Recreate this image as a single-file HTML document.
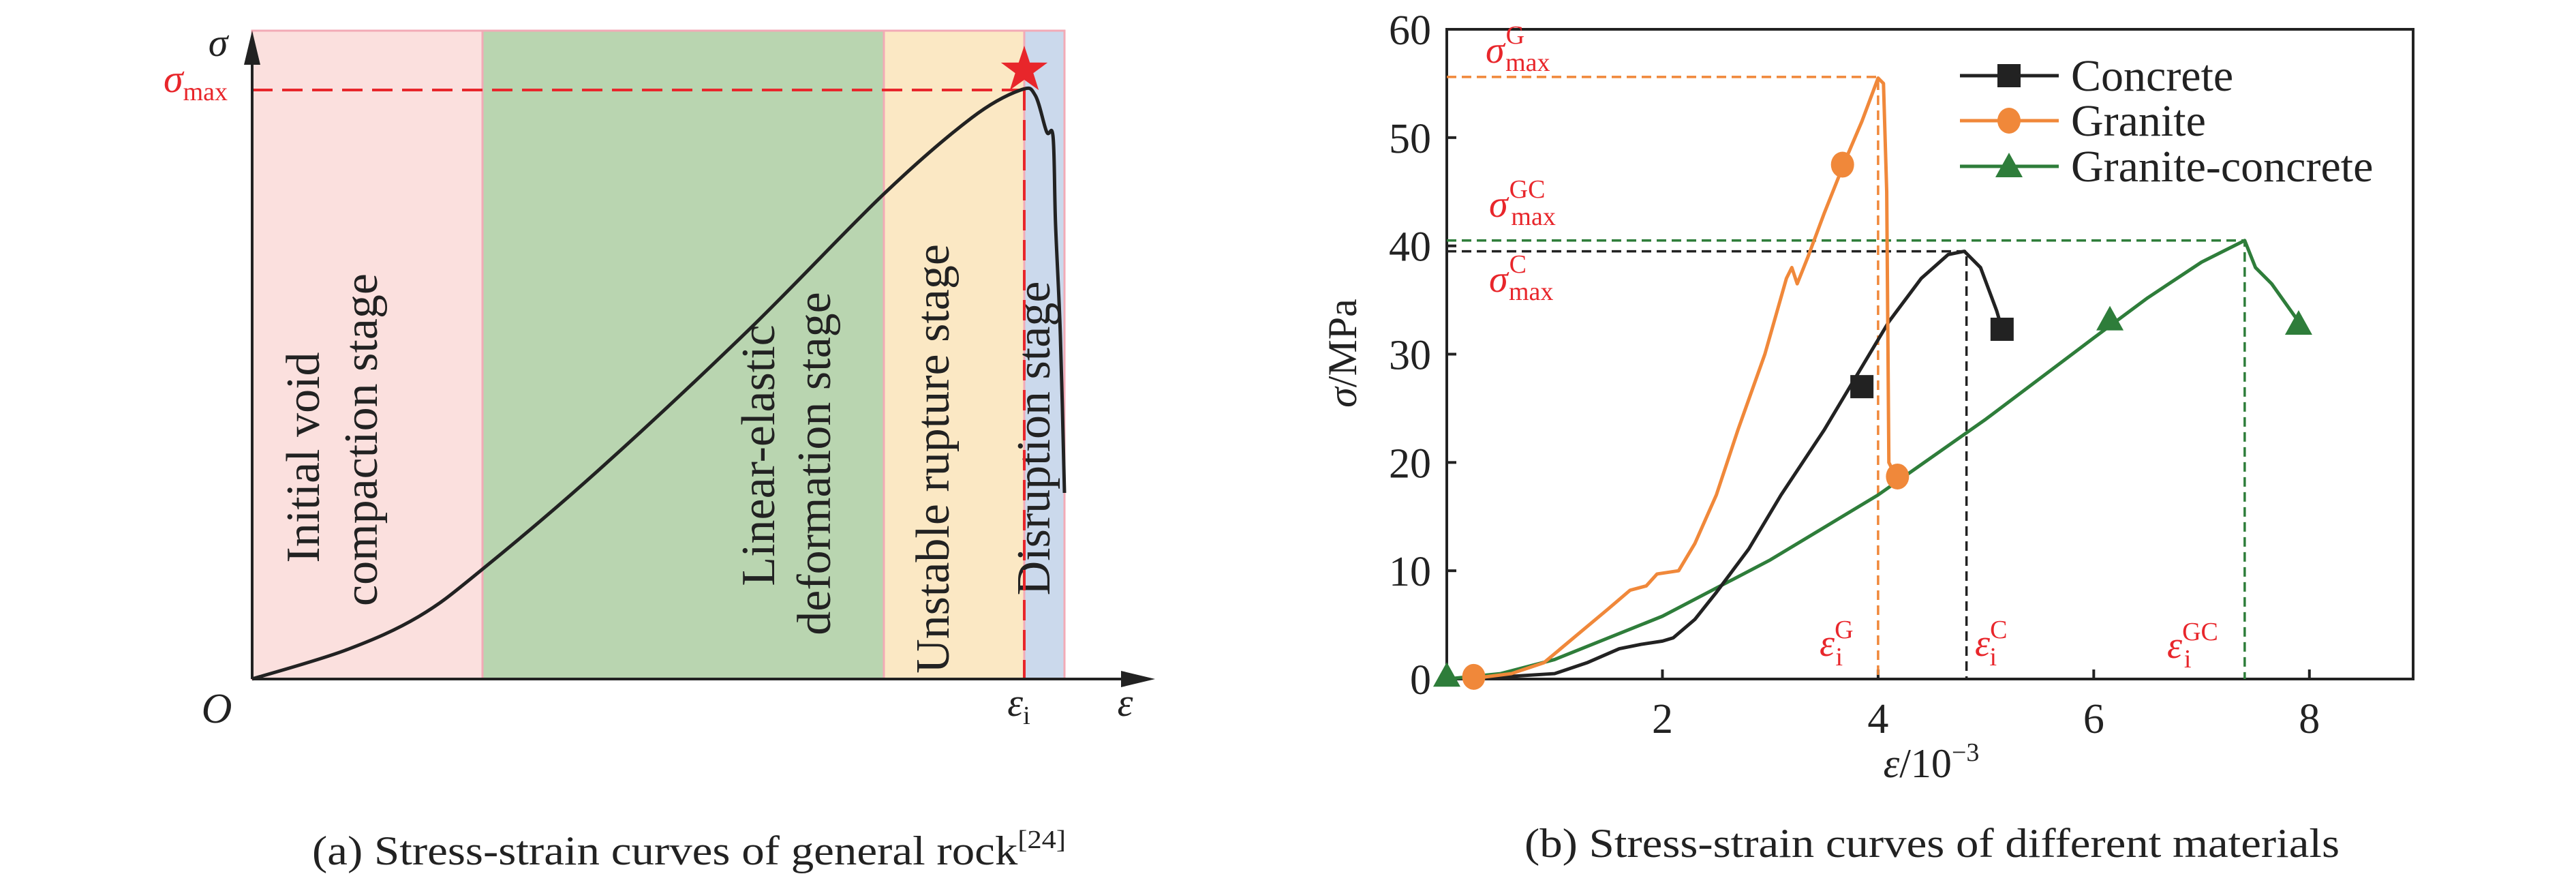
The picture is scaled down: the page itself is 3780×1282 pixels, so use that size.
<!DOCTYPE html>
<html><head><meta charset="utf-8"><style>
html,body{margin:0;padding:0;background:#fff}
svg{display:block}
text{font-family:"Liberation Serif",serif}
</style></head><body>
<svg id="s" width="3780" height="1282" viewBox="0 0 3780 1282" xmlns="http://www.w3.org/2000/svg">
<g id="left">
  <rect x="370" y="45" width="338" height="951" fill="#fbe0de" stroke="#f2aab6" stroke-width="3"/>
  <rect x="708" y="45" width="589" height="951" fill="#b9d5b0" stroke="#f2aab6" stroke-width="3"/>
  <rect x="1297" y="45" width="206" height="951" fill="#fbe8c4" stroke="#f2aab6" stroke-width="3"/>
  <rect x="1503" y="45" width="59" height="951" fill="#cbd9ec" stroke="#f2aab6" stroke-width="3"/>
  <g font-size="70" fill="#222">
    <text transform="translate(468,671) rotate(-90)" text-anchor="middle">Initial void</text>
    <text transform="translate(553,645) rotate(-90)" text-anchor="middle">compaction stage</text>
    <text transform="translate(1136,668) rotate(-90)" text-anchor="middle">Linear-elastic</text>
    <text transform="translate(1218,680) rotate(-90)" text-anchor="middle">deformation stage</text>
    <text transform="translate(1392,673) rotate(-90)" text-anchor="middle">Unstable rupture stage</text>
    <text transform="translate(1540,643) rotate(-90)" text-anchor="middle">Disruption stage</text>
  </g>
  <line x1="370" y1="132" x2="1503" y2="132" stroke="#e8262b" stroke-width="4" stroke-dasharray="30,14"/>
  <line x1="1503" y1="132" x2="1503" y2="996" stroke="#e8262b" stroke-width="4" stroke-dasharray="30,14"/>
  <line x1="370" y1="996" x2="370" y2="90" stroke="#222" stroke-width="4"/>
  <polygon points="358,95 382,95 370,45" fill="#222"/>
  <line x1="370" y1="996" x2="1650" y2="996" stroke="#222" stroke-width="4"/>
  <polygon points="1645,984 1645,1008 1695,996" fill="#222"/>
  <text x="320" y="82" font-size="58" font-style="italic" fill="#222" text-anchor="middle">σ</text>
  <text x="240" y="135" font-size="58" font-style="italic" fill="#e8262b">σ<tspan font-style="normal" font-size="38" dy="12">max</tspan></text>
  <text x="318" y="1060" font-size="62" font-style="italic" fill="#222" text-anchor="middle">O</text>
  <text x="1495" y="1050" font-size="58" font-style="italic" fill="#222" text-anchor="middle">ε<tspan font-style="normal" font-size="38" dy="12">i</tspan></text>
  <text x="1651" y="1050" font-size="58" font-style="italic" fill="#222" text-anchor="middle">ε</text>
  <polygon id="star" fill="#e8262b"/>
  <text x="1011" y="1268" font-size="60" fill="#222" text-anchor="middle" textLength="1106" lengthAdjust="spacingAndGlyphs">(a) Stress-strain curves of general rock<tspan font-size="38" dy="-24">[24]</tspan></text>
</g>
<g id="right">
  <rect x="2123" y="43" width="1418" height="953" fill="none" stroke="#222" stroke-width="4"/>
  <g id="ticks"></g>
  <g id="guides"></g>
  <g id="series"></g>
  <text transform="translate(1990,518) rotate(-90)" font-size="60" fill="#222" text-anchor="middle"><tspan font-style="italic">σ</tspan>/MPa</text>
  <text x="2834" y="1140" font-size="60" fill="#222" text-anchor="middle"><tspan font-style="italic">ε</tspan>/10<tspan font-size="38" dy="-24">−3</tspan></text>
  <g font-size="56" fill="#e8262b">
    <text x="2180" y="92" font-style="italic">σ<tspan font-style="normal" font-size="38" dx="2" dy="-28">G</tspan><tspan font-style="normal" font-size="38" dx="-28" dy="40">max</tspan></text>
    <text x="2185" y="318" font-style="italic">σ<tspan font-style="normal" font-size="38" dx="2" dy="-28">GC</tspan><tspan font-style="normal" font-size="38" dx="-50" dy="40">max</tspan></text>
    <text x="2185" y="428" font-style="italic">σ<tspan font-style="normal" font-size="38" dx="2" dy="-28">C</tspan><tspan font-style="normal" font-size="38" dx="-26" dy="40">max</tspan></text>
    <text x="2670" y="962" font-style="italic">ε<tspan font-style="normal" font-size="38" dy="-26">G</tspan><tspan font-style="normal" font-size="38" dx="-26" dy="40">i</tspan></text>
    <text x="2898" y="962" font-style="italic">ε<tspan font-style="normal" font-size="38" dy="-26">C</tspan><tspan font-style="normal" font-size="38" dx="-26" dy="40">i</tspan></text>
    <text x="3180" y="965" font-style="italic">ε<tspan font-style="normal" font-size="38" dy="-26">GC</tspan><tspan font-style="normal" font-size="38" dx="-50" dy="40">i</tspan></text>
  </g>
  <g id="legend"></g>
  <text x="2835" y="1257" font-size="60" fill="#222" text-anchor="middle" textLength="1196" lengthAdjust="spacingAndGlyphs">(b) Stress-strain curves of different materials</text>
</g>
</svg>
<script>
// Panel (a): normalized schematic curve (strain fraction, stress fraction of sigma-max)
const rockStrain = [0,0.115,0.205,0.284,0.426,0.610,0.778,0.886,0.946,0.964,0.978,0.986,0.989,0.995,1.0];
const rockStress = [0,0.049,0.106,0.187,0.354,0.591,0.824,0.953,1.0,0.991,0.929,0.920,0.772,0.582,0.316];
// Panel (b) data
const xTicks = [2,4,6,8];
const yTicks = [0,10,20,30,40,50,60];
const concreteX = [0.2,1.0,1.3,1.6,1.8,2.0,2.1,2.3,2.5,2.8,3.1,3.5,3.8,4.1,4.4,4.65,4.8,4.95,5.1,5.15];
const concreteY = [0,0.5,1.5,2.8,3.2,3.5,3.8,5.5,8,12,17,23,28,33,37,39.2,39.5,38,34,32.3];
const graniteX = [0.2,0.6,0.9,1.2,1.5,1.7,1.85,1.95,2.15,2.3,2.5,2.7,2.95,3.15,3.2,3.25,3.35,3.5,3.7,3.85,4.0,4.05,4.08,4.1,4.15,4.18];
const graniteY = [0,0.5,1.5,4,6.5,8.2,8.6,9.7,10,12.5,17,23,30,37,38,36.5,39,43,48,51.5,55.5,55,45,20,19,18.5];
const gcX = [0,0.5,1,2,3,4,5,6,6.5,7,7.4,7.5,7.65,7.9];
const gcY = [0,0.5,1.8,5.8,11,17,24,31.5,35.2,38.5,40.5,38,36.5,33];
const concreteMarkX = [3.85,5.15], concreteMarkY = [27,32.3];
const graniteMarkX = [0.25,3.67,4.18], graniteMarkY = [0.2,47.5,18.7];
const gcMarkX = [0,6.15,7.9], gcMarkY = [0.3,33.2,32.8];
const peakX = [4.0,4.82,7.4], peakY = [55.6,39.5,40.5];

const NS='http://www.w3.org/2000/svg';
function mk(t,a,p){const e=document.createElementNS(NS,t);for(const k in a)e.setAttribute(k,a[k]);p.appendChild(e);return e;}
const ax=v=>370+v*1192, ay=v=>996-v*864;
const L=document.getElementById('left');
const rp=rockStrain.map((v,i)=>[ax(v),ay(rockStress[i])]);
let d='M'+rp[0][0]+','+rp[0][1];
for(let i=0;i<rp.length-1;i++){
  const p0=rp[Math.max(0,i-1)],p1=rp[i],p2=rp[i+1],p3=rp[Math.min(rp.length-1,i+2)];
  const c1=[p1[0]+(p2[0]-p0[0])/6,p1[1]+(p2[1]-p0[1])/6];
  const c2=[p2[0]-(p3[0]-p1[0])/6,p2[1]-(p3[1]-p1[1])/6];
  d+=` C${c1[0].toFixed(1)},${c1[1].toFixed(1)} ${c2[0].toFixed(1)},${c2[1].toFixed(1)} ${p2[0].toFixed(1)},${p2[1].toFixed(1)}`;
}
const rc=mk('path',{d:d,fill:'none',stroke:'#222','stroke-width':5,'stroke-linejoin':'round'},L);


L.insertBefore(rc,document.getElementById('star'));
let sp=[];for(let i=0;i<10;i++){const r=i%2?14:36,a=-Math.PI/2+i*Math.PI/5;sp.push((1503+r*Math.cos(a)).toFixed(1)+','+(103+r*Math.sin(a)).toFixed(1));}
document.getElementById('star').setAttribute('points',sp.join(' '));

const X=v=>2123+v*1424/9, Y=v=>996-v*953/60;
const T=document.getElementById('ticks');
xTicks.forEach(v=>{
  const l=mk('line',{x1:X(v),y1:996,x2:X(v),y2:982,stroke:'#222','stroke-width':4},T);
  
  
  const t=mk('text',{x:X(v),y:1075,'font-size':62,'text-anchor':'middle',fill:'#222'},T);t.textContent=v;
  
  
});
yTicks.forEach(v=>{
  const l=mk('line',{x1:2123,y1:Y(v),x2:2137,y2:Y(v),stroke:'#222','stroke-width':4},T);
  
  
  const t=mk('text',{x:2100,y:Y(v)+22,'font-size':62,'text-anchor':'end',fill:'#222'},T);t.textContent=v;
  
  
});
const cols=['#f0883a','#222222','#2e7d3a'];
const G=document.getElementById('guides');
peakX.forEach((px,i)=>{
  const h=mk('polyline',{points:`${X(0)},${Y(peakY[i])} ${X(px)},${Y(peakY[i])} ${X(px)},${Y(0)}`,fill:'none',stroke:cols[i],'stroke-width':3.5,'stroke-dasharray':'14,8'},G);
  
  
});
const S=document.getElementById('series');
function line(xs,ys,c,name){
  const p=mk('polyline',{points:xs.map((v,i)=>X(v)+','+Y(ys[i])).join(' '),fill:'none',stroke:c,'stroke-width':5,'stroke-linejoin':'round'},S);
  
  
}
function marker(type,cx,cy,c,par){
  let e;
  if(type==='sq') e=mk('rect',{x:cx-17,y:cy-17,width:34,height:34,fill:c},par);
  else if(type==='ci') e=mk('ellipse',{cx:cx,cy:cy,rx:17,ry:19,fill:c},par);
  else e=mk('polygon',{points:`${cx-20},${cy+16} ${cx+20},${cy+16} ${cx},${cy-20}`,fill:c},par);
  return e;
}
line(gcX,gcY,'#2e7d3a','granite-concrete-line');
line(concreteX,concreteY,'#222222','concrete-line');
line(graniteX,graniteY,'#f0883a','granite-line');
concreteMarkX.forEach((v,i)=>{const m=marker('sq',X(v),Y(concreteMarkY[i]),'#222',S);
  
  });
graniteMarkX.forEach((v,i)=>{const m=marker('ci',X(v),Y(graniteMarkY[i]),'#f0883a',S);
  
  });
gcMarkX.forEach((v,i)=>{const m=marker('tr',X(v),Y(gcMarkY[i]),'#2e7d3a',S);
  
  });
const LG=document.getElementById('legend');
const legNames=['Concrete','Granite','Granite-concrete'], legTypes=['sq','ci','tr'], legCols=['#222','#f0883a','#2e7d3a'], legY=[111,177,244];
legNames.forEach((n,i)=>{
  const l=mk('line',{x1:2876,y1:legY[i],x2:3021,y2:legY[i],stroke:legCols[i],'stroke-width':5},LG);
  
  
  const m=marker(legTypes[i],2948,legY[i],legCols[i],LG);
  
  
  const t=mk('text',{x:3039,y:legY[i]+22,'font-size':66,fill:'#222'},LG);t.textContent=n;
  
  
});
</script>
</body></html>
